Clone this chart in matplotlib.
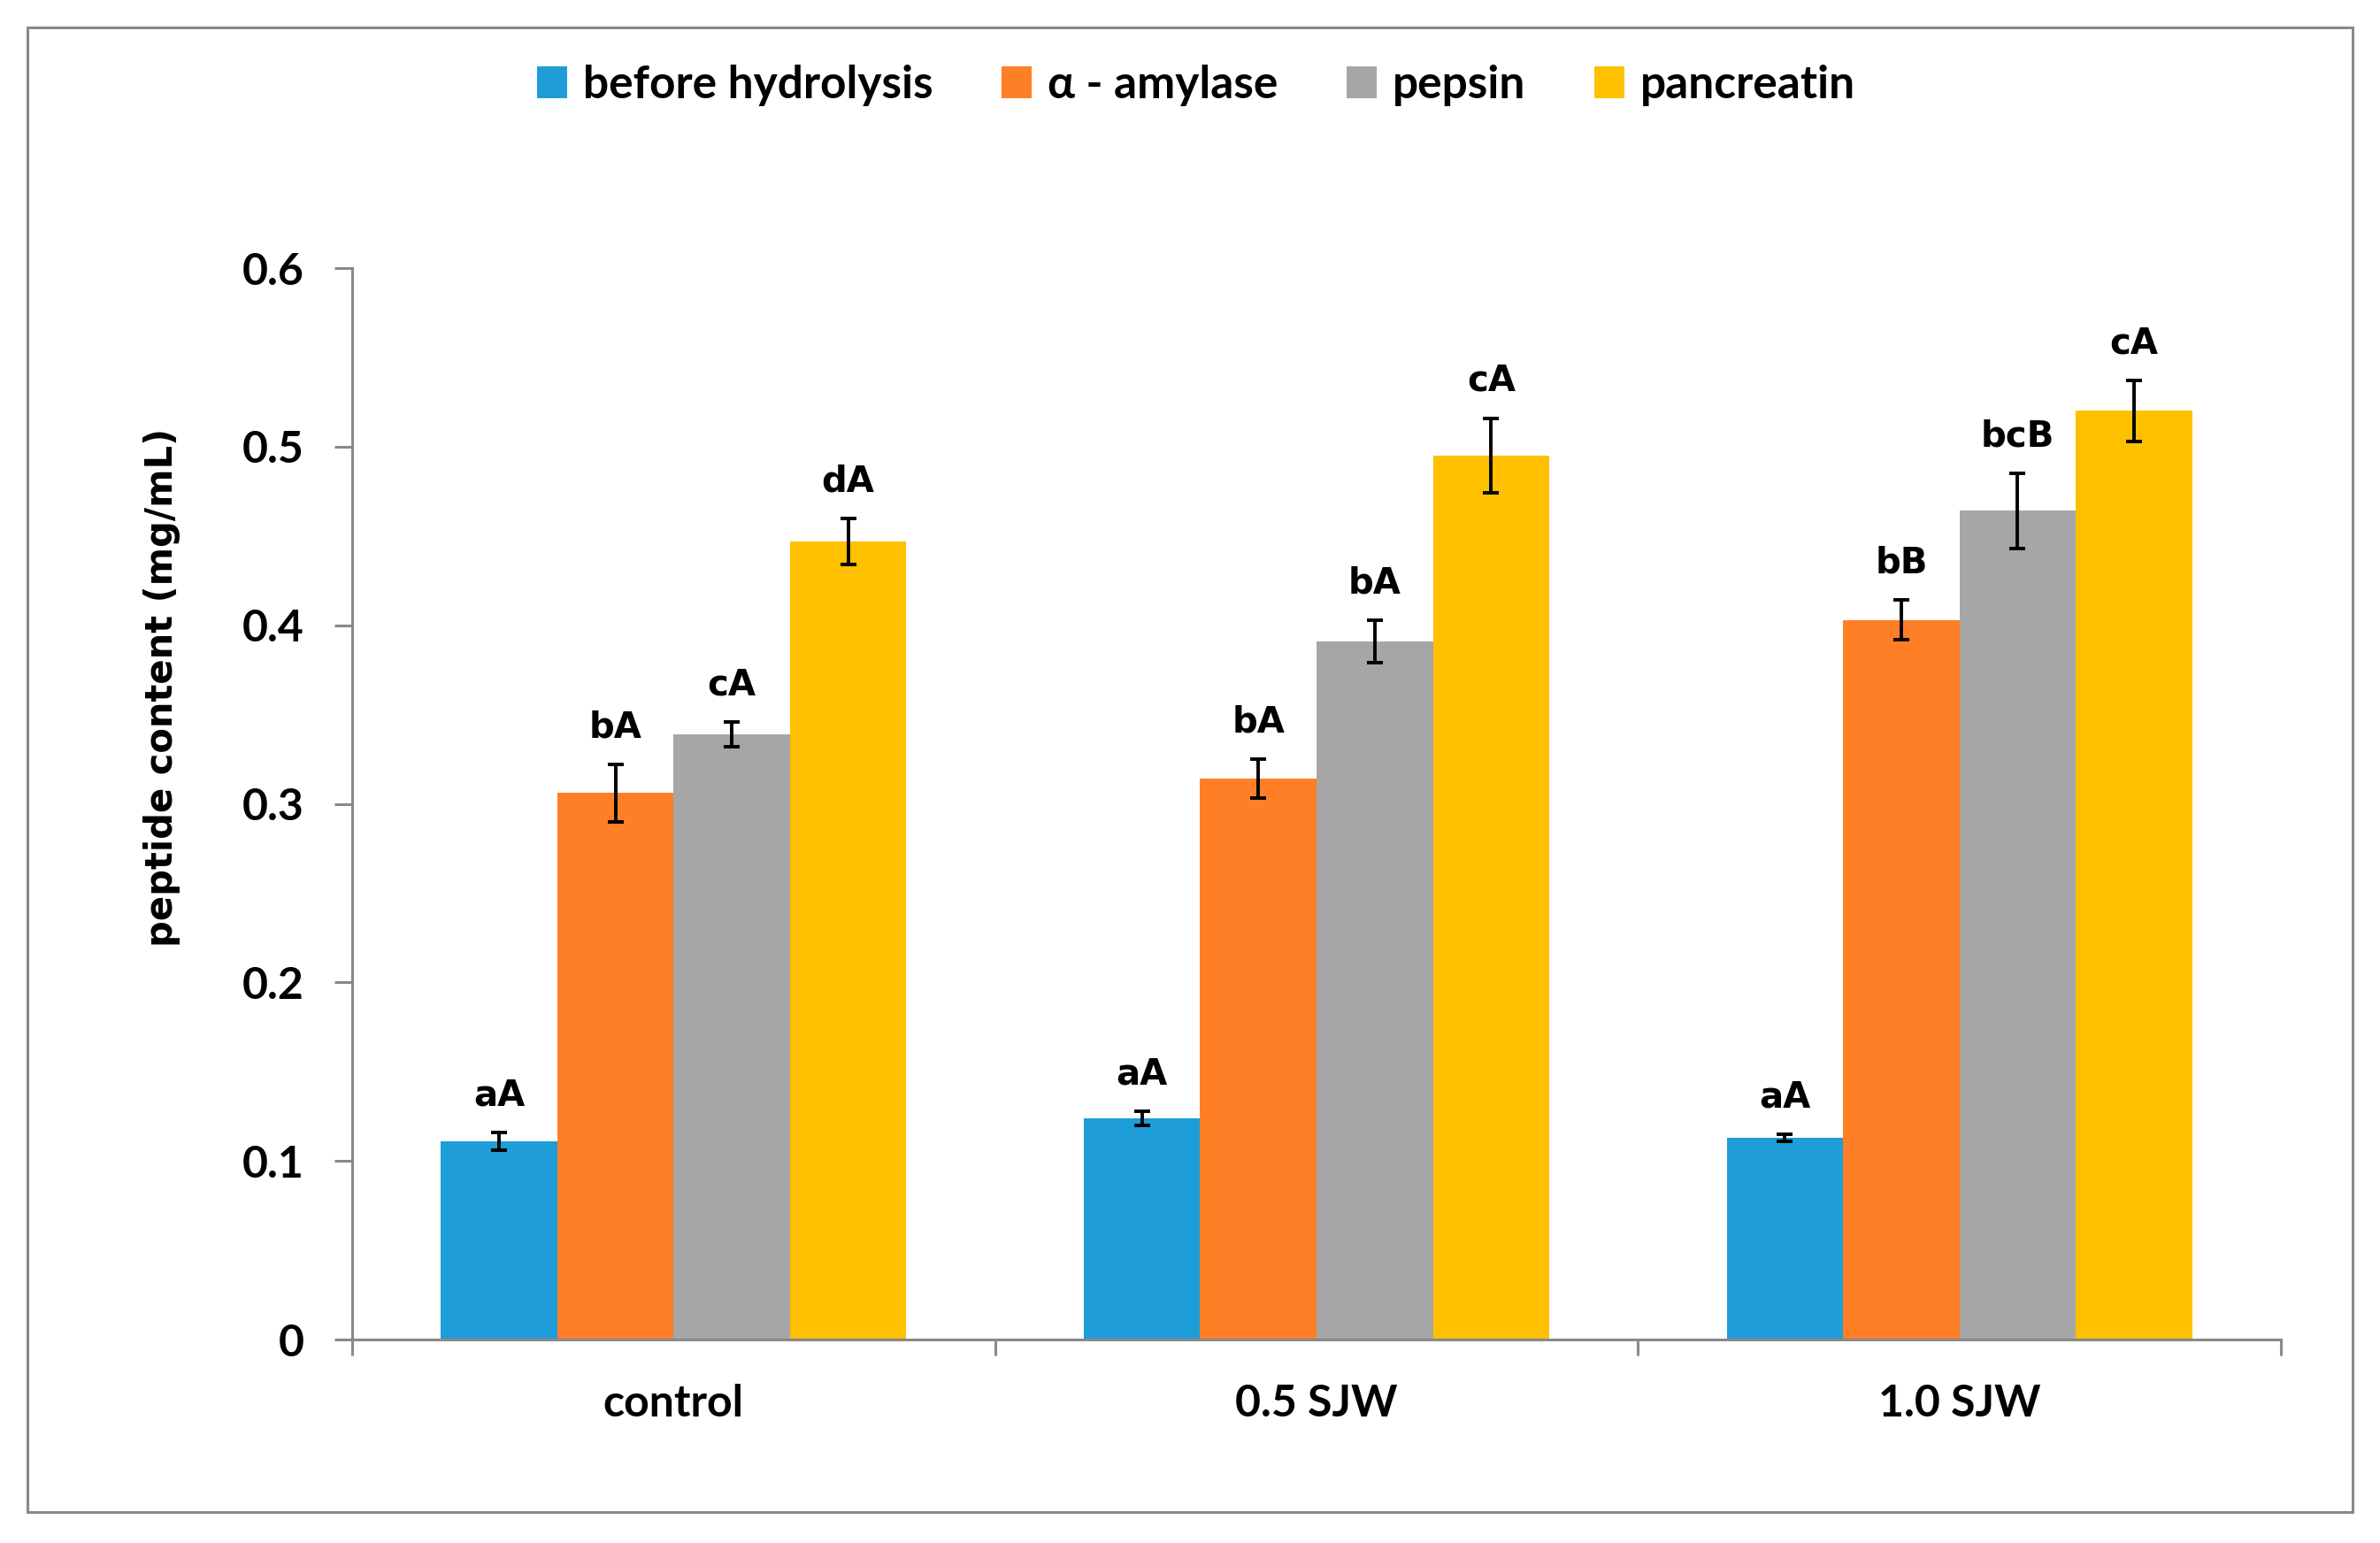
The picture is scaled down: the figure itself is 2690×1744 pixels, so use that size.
import matplotlib
matplotlib.use('Agg')
import matplotlib.pyplot as plt
from matplotlib.patches import Rectangle
import numpy as np

# peptide content after each digestion step
groups = ['control', '0.5 SJW', '1.0 SJW']
series = ['before hydrolysis', 'α - amylase', 'pepsin', 'pancreatin']
colors = ['#1E9DD8', '#FF7F27', '#A6A6A6', '#FFC000']

before = [0.111, 0.124, 0.113]
amylase = [0.306, 0.314, 0.403]
pepsin = [0.339, 0.391, 0.464]
pancreatin = [0.447, 0.495, 0.520]

before_err = [0.005, 0.004, 0.002]
amylase_err = [0.016, 0.011, 0.011]
pepsin_err = [0.007, 0.012, 0.021]
pancreatin_err = [0.013, 0.021, 0.017]

before_lbl = ['aA', 'aA', 'aA']
amylase_lbl = ['bA', 'bA', 'bB']
pepsin_lbl = ['cA', 'bA', 'bcB']
pancreatin_lbl = ['dA', 'cA', 'cA']

y_ticks = [0, 0.1, 0.2, 0.3, 0.4, 0.5, 0.6]

values = [before, amylase, pepsin, pancreatin]
errors = [before_err, amylase_err, pepsin_err, pancreatin_err]
letters = [before_lbl, amylase_lbl, pepsin_lbl, pancreatin_lbl]

plt.rcParams['font.family'] = ['Lato', 'DejaVu Sans']
plt.rcParams['font.weight'] = 'bold'

axis_grey = '#898989'

fig = plt.figure(figsize=(13.45, 8.72), dpi=200)
ax = fig.add_axes([0.14796, 0.13188, 0.81041, 0.69438])

x = np.arange(len(groups))
w = 0.181
for i in range(len(series)):
    pos = x + (i - 1.5) * w
    ax.bar(pos, values[i], width=w, color=colors[i], label=series[i],
           yerr=errors[i], capsize=3.1,
           error_kw=dict(elinewidth=1.4, capthick=1.4, ecolor='black'))
    for j in range(len(groups)):
        ax.annotate(letters[i][j], (pos[j], values[i][j] + errors[i][j]),
                    xytext=(0, 11), textcoords='offset points',
                    ha='center', va='baseline', fontsize=14.5,
                    fontweight='bold', family='DejaVu Sans')

ax.set_xlim(-0.5, len(groups) - 0.5)
ax.set_ylim(0, 0.6)

# category boundaries get the ticks, labels sit in between
ax.set_xticks(np.arange(len(groups) + 1) - 0.5)
ax.set_xticklabels([])
ax.set_xticks(x, minor=True)
ax.set_xticklabels(groups, minor=True, fontsize=18, fontweight='bold')
ax.tick_params(axis='x', which='minor', length=0, pad=18)
ax.tick_params(axis='x', which='major', direction='out', length=6.5,
               width=1.1, color=axis_grey)

ax.set_yticks(y_ticks)
ax.set_yticklabels(['%g' % t for t in y_ticks], fontsize=18, fontweight='bold')
ax.tick_params(axis='y', direction='out', length=7.2, width=1.1,
               color=axis_grey, pad=12.5)

for s in ['top', 'right']:
    ax.spines[s].set_visible(False)
for s in ['left', 'bottom']:
    ax.spines[s].set_color(axis_grey)
    ax.spines[s].set_linewidth(1.1)

ax.set_ylabel('peptide content (mg/mL)', fontsize=15, fontweight='bold',
              family='DejaVu Sans', va='center')
ax.yaxis.set_label_coords(-0.0986, 0.609)

handles, labels = ax.get_legend_handles_labels()
fig.legend(handles, labels, loc='center', bbox_to_anchor=(0.5026, 0.9444),
           ncol=4, frameon=False, fontsize=18.5, handlelength=0.66,
           handleheight=0.7, handletextpad=0.34, columnspacing=1.52)

fig.patches.append(Rectangle((0.01152, 0.02007), 0.97695, 0.96216,
                             transform=fig.transFigure, fill=False,
                             edgecolor=axis_grey, linewidth=1.1))

fig.savefig('out.png', dpi=200, facecolor='white')
